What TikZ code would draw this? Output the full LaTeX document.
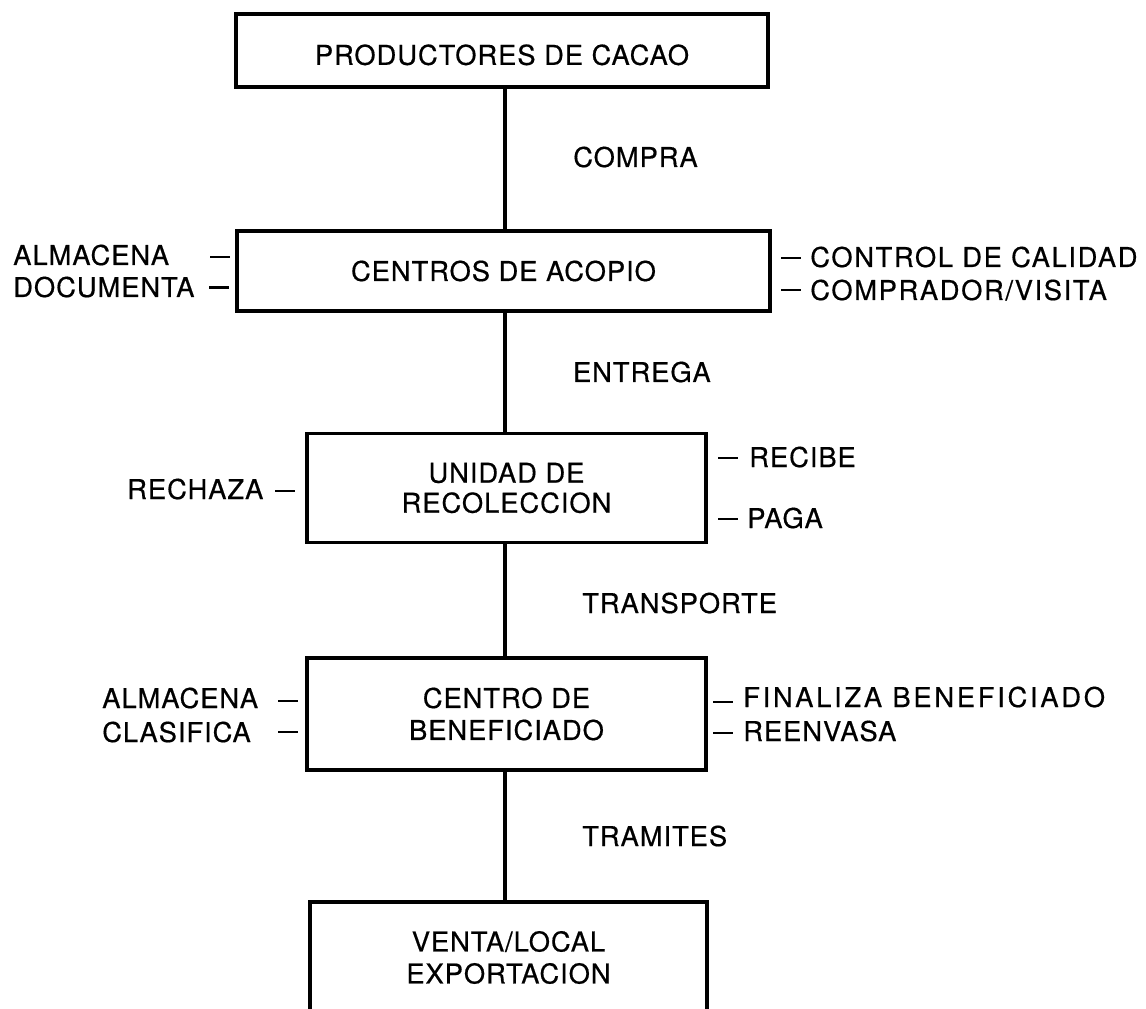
\documentclass[tikz,border=0pt]{standalone}
\usepackage{fontspec}
\setmainfont{TeX Gyre Heros}[LetterSpace=3.5,FakeBold=0.5]
\newfontfamily\widefont{TeX Gyre Heros}[LetterSpace=10,FakeBold=0.5]
\newfontfamily\midfont{TeX Gyre Heros}[LetterSpace=6,FakeBold=0.5]
\begin{document}
\begin{tikzpicture}[x=0.75pt,y=-0.75pt,
  box/.style={draw, line width=2.4pt, rectangle, inner sep=0pt, align=center,
    font=\fontsize{20.5pt}{24pt}\selectfont},
  lbl/.style={inner sep=0pt, anchor=base west, font=\fontsize{20.5pt}{24pt}\selectfont},
  lble/.style={lbl, anchor=base east},
  dsh/.style={fill=black, inner sep=0pt, minimum width=15pt, minimum height=2pt},
  conn/.style={line width=2.4pt}]
\useasboundingbox (0,0) rectangle (1146,1009);
\clip (0,0) rectangle (1146,1009);
\coordinate (v) at (505,0);

% boxes
\node[box, minimum width=399pt, minimum height=54.75pt, text height=21.5pt, text depth=0pt] (b1) at (502,50.5) {PRODUCTORES DE CACAO};
\node[box, minimum width=399.75pt, minimum height=60pt] (b2) at (503.5,271) {CENTROS DE ACOPIO};
\node[box, minimum width=299.25pt, minimum height=81.75pt, font=\fontsize{20.5pt}{22.5pt}\selectfont] (b3) at (506.5,488) {UNIDAD DE\\RECOLECCION};
\node[box, minimum width=299.25pt, minimum height=84pt] (b4) at (506.5,714) {CENTRO DE\\BENEFICIADO};
\node[box, minimum width=297.75pt, minimum height=83.25pt] (b5) at (508.5,957.5) {VENTA/LOCAL\\EXPORTACION};

% connectors
\draw[conn] (b1.south -| v) -- (b2.north -| v);
\draw[conn] (b2.south -| v) -- (b3.north -| v);
\draw[conn] (b3.south -| v) -- (b4.north -| v);
\draw[conn] (b4.south -| v) -- (b5.north -| v);

% connector labels
\node[lbl] (compra) at (573,167) {COMPRA};
\node[lble] (entrega) at (711,382) {ENTREGA};
\node[lbl] (transp) at (582,613) {TRANSPORTE};
\node[lbl] (tramites) at (582,846) {TRAMITES};

% side labels: centros de acopio
\node[lbl] (almA) at (13,265) {ALMACENA};
\node[lbl] (docu) at (13,297) {DOCUMENTA};
\node[dsh] (dA1) at (220,257) {};
\node[dsh] (dA2) at (219,287.5) {};
\node[dsh] (dA3) at (791,258) {};
\node[dsh] (dA4) at (791,290) {};
\node[lbl, font=\fontsize{20.5pt}{24pt}\midfont] (ctrl) at (810,267) {CONTROL DE CALIDAD};
\node[lbl, font=\fontsize{20.5pt}{24pt}\midfont] (compr) at (810,300) {COMPRADOR/VISITA};

% unidad de recoleccion
\node[lbl] (rech) at (127,499) {RECHAZA};
\node[dsh] (dB1) at (285,491) {};
\node[dsh] (dB2) at (727.5,458) {};
\node[dsh] (dB3) at (727.5,519) {};
\node[lbl] (recibe) at (749,467) {RECIBE};
\node[lbl] (paga) at (747,528) {PAGA};

% centro de beneficiado
\node[lbl] (almB) at (102,708) {ALMACENA};
\node[lbl] (clas) at (102,742) {CLASIFICA};
\node[dsh] (dC1) at (288,701) {};
\node[dsh] (dC2) at (288,732) {};
\node[dsh] (dC3) at (722.5,702) {};
\node[dsh] (dC4) at (722.5,733) {};
\node[lbl, font=\fontsize{20.5pt}{24pt}\widefont] (final) at (743,707) {FINALIZA BENEFICIADO};
\node[lbl] (reenv) at (743,741) {REENVASA};
\end{tikzpicture}
\end{document}
